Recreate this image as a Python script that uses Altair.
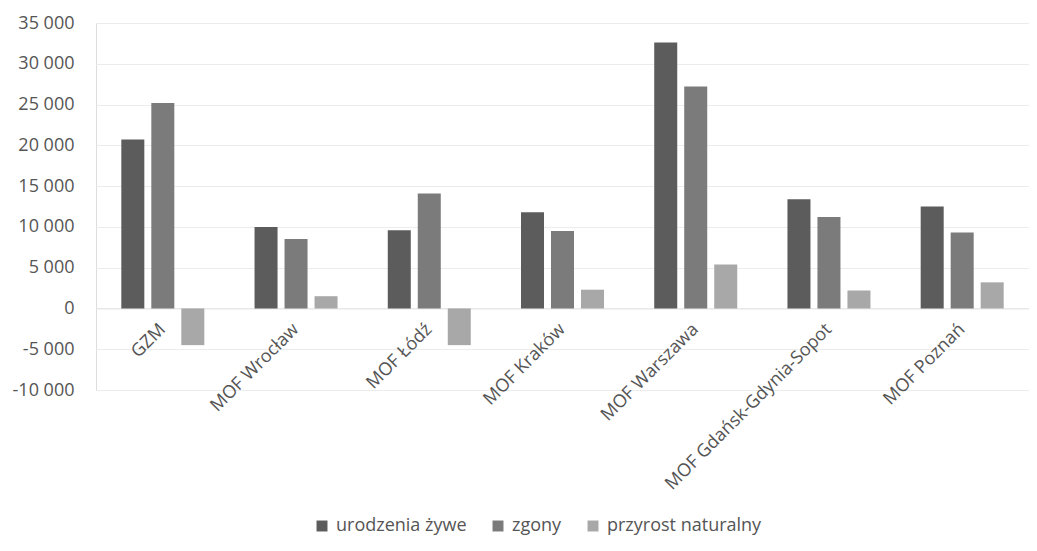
import altair as alt
import pandas as pd

categories = ["GZM", "MOF Wrocław", "MOF Łódź", "MOF Kraków", "MOF Warszawa",
              "MOF Gdańsk-Gdynia-Sopot", "MOF Poznań"]
series = ["urodzenia żywe", "zgony", "przyrost naturalny"]
urodzenia = [20700, 10000, 9600, 11800, 32600, 13400, 12500]
zgony = [25200, 8500, 14100, 9500, 27200, 11200, 9300]
przyrost = [-4500, 1500, -4500, 2300, 5400, 2200, 3200]
colors = ["#5c5c5c", "#7b7b7b", "#a8a8a8"]

rows = []
for i, c in enumerate(categories):
    for s, vals in zip(series, [urodzenia, zgony, przyrost]):
        rows.append({"kat": c, "seria": s, "wartosc": vals[i]})
df = pd.DataFrame(rows)

W, H = 933, 367
ymin, ymax = -10000, 35000
zero_offset = -(H - H * ymax / (ymax - ymin))

FONT = "Open Sans"
TXT = "#555555"

chart = alt.Chart(df).mark_bar().encode(
    x=alt.X("kat:N", sort=categories, title=None,
            scale=alt.Scale(paddingInner=0.377, paddingOuter=0.19),
            axis=alt.Axis(orient="bottom", offset=zero_offset, labelAngle=-45,
                          labelAlign="right", labelBaseline="middle",
                          labelPadding=18, labelFontSize=18, labelColor=TXT,
                          labelFont=FONT, labelLimit=400, labelOverlap=False,
                          ticks=False, domainColor="#e4e4e4", domainWidth=1,
                          grid=False)),
    xOffset=alt.XOffset("seria:N", sort=series,
                        scale=alt.Scale(paddingInner=0.233, paddingOuter=0)),
    y=alt.Y("wartosc:Q", title=None,
            scale=alt.Scale(domain=[ymin, ymax], nice=False, zero=False),
            axis=alt.Axis(values=list(range(ymin, ymax + 1, 5000)),
                          labelExpr="(datum.value < 0 ? '-' : '') + replace(format(abs(datum.value), ','), ',', ' ')",
                          labelFontSize=18, labelColor=TXT, labelFont=FONT,
                          labelPadding=22, ticks=False, domain=False,
                          grid=True, gridColor="#ececec", gridWidth=1)),
    color=alt.Color("seria:N", sort=series,
                    scale=alt.Scale(domain=series, range=colors),
                    legend=alt.Legend(title=None, orient="none", direction="horizontal",
                                      legendX=217, legendY=494,
                                      symbolType="square", symbolSize=120,
                                      symbolStrokeWidth=0, labelFontSize=18,
                                      labelColor=TXT, labelFont=FONT,
                                      labelOffset=5, columnPadding=22)),
).properties(
    width=W, height=H,
    autosize=alt.AutoSizeParams(type="none"),
    padding={"left": 88, "top": 15, "right": 0, "bottom": 153},
).configure_view(stroke=None).configure(background="white")

chart.save("out.html", embed_options={"renderer": "svg", "actions": False})
